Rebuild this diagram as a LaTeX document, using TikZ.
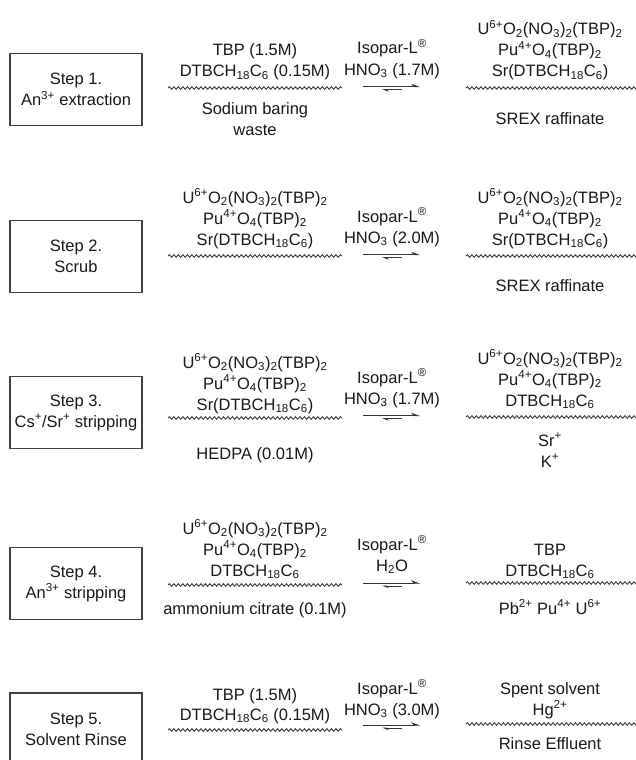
\documentclass[tikz,border=0pt]{standalone}
\usepackage{fontspec}
\setmainfont{Liberation Sans}
\usetikzlibrary{decorations.pathmorphing,arrows.meta}
\newcommand\supx[1]{\textsuperscript{#1}}
\newcommand\subx[1]{\textsubscript{#1}}
\newcommand\Uline{U\supx{6+}O\subx{2}(NO\subx{3})\subx{2}(TBP)\subx{2}}
\newcommand\Puline{Pu\supx{4+}O\subx{4}(TBP)\subx{2}}
\newcommand\Srline{Sr(DTBCH\subx{18}C\subx{6})}
\newcommand\Dline{DTBCH\subx{18}C\subx{6}}
\newcommand\Isop{Isopar-L\supx{®}}
\begin{document}
\begin{tikzpicture}[x=1pt,y=-1pt,
  every node/.style={font=\fontsize{16.5}{21}\selectfont, inner sep=0pt, text=black!90},
  txt/.style={anchor=base},
  stepbox/.style={draw=black!75, line width=1.1pt, minimum width=132pt, minimum height=72pt, align=center},
  wavy/.style={decorate, decoration={snake, segment length=4.5pt, amplitude=1.3pt}, line width=0.85pt, draw=black!80},
  fwd/.style={line width=1pt, draw=black!80, -{Stealth[harpoon, length=7.5pt, width=5.5pt]}},
  bwd/.style={line width=1pt, draw=black!80, -{Stealth[harpoon, length=5.5pt, width=4.5pt]}}]
\useasboundingbox (0,0) rectangle (636,760);
\fill[white] (0,0) rectangle (636,760);

% ---------- Step 1 ----------
\node[stepbox] (b1) at (76,89.5) {Step 1.\\An\supx{3+} extraction};
\node[txt] (l1a) at (255,56) {TBP (1.5M)};
\node[txt] (l1b) at (255,77) {\Dline{} (0.15M)};
\node[txt] (l1c) at (255,114) {Sodium baring};
\node[txt] (l1d) at (255,135) {waste};
\node[txt] (m1a) at (392,54) {\Isop};
\node[txt] (m1b) at (392,75) {HNO\subx{3} (1.7M)};
\node[txt] (r1a) at (550,35) {\Uline};
\node[txt] (r1b) at (550,56) {\Puline};
\node[txt] (r1c) at (550,77) {\Srline};
\node[txt] (r1d) at (550,124) {SREX raffinate};
\coordinate (wl1s) at (168,88); \coordinate (wl1e) at (342,88);
\coordinate (wr1s) at (466,88); \coordinate (wr1e) at (640,88);
\coordinate (af1s) at (363,86.5); \coordinate (af1e) at (420,86.5);
\coordinate (ab1s) at (402,89.5); \coordinate (ab1e) at (382,89.5);
\draw[wavy] (wl1s) -- (wl1e);
\draw[wavy] (wr1s) -- (wr1e);
\draw[fwd] (af1s) -- (af1e);
\draw[bwd] (ab1s) -- (ab1e);

% ---------- Step 2 ----------
\node[stepbox] (b2) at (76,256.5) {Step 2.\\Scrub};
\node[txt] (l2a) at (255,203) {\Uline};
\node[txt] (l2b) at (255,224) {\Puline};
\node[txt] (l2c) at (255,245) {\Srline};
\node[txt] (m2a) at (392,222) {\Isop};
\node[txt] (m2b) at (392,243) {HNO\subx{3} (2.0M)};
\node[txt] (r2a) at (550,203) {\Uline};
\node[txt] (r2b) at (550,224) {\Puline};
\node[txt] (r2c) at (550,245) {\Srline};
\node[txt] (r2d) at (550,291) {SREX raffinate};
\coordinate (wl2s) at (168,256); \coordinate (wl2e) at (342,256);
\coordinate (wr2s) at (466,256); \coordinate (wr2e) at (640,256);
\coordinate (af2s) at (363,254.5); \coordinate (af2e) at (420,254.5);
\coordinate (ab2s) at (402,257.5); \coordinate (ab2e) at (382,257.5);
\draw[wavy] (wl2s) -- (wl2e);
\draw[wavy] (wr2s) -- (wr2e);
\draw[fwd] (af2s) -- (af2e);
\draw[bwd] (ab2s) -- (ab2e);

% ---------- Step 3 ----------
\node[stepbox] (b3) at (76,412.5) {Step 3.\\Cs\supx{+}/Sr\supx{+} stripping};
\node[txt] (l3a) at (255,368) {\Uline};
\node[txt] (l3b) at (255,389) {\Puline};
\node[txt] (l3c) at (255,410) {\Srline};
\node[txt] (l3d) at (255,459) {HEDPA (0.01M)};
\node[txt] (m3a) at (392,383) {\Isop};
\node[txt] (m3b) at (392,404) {HNO\subx{3} (1.7M)};
\node[txt] (r3a) at (550,364) {\Uline};
\node[txt] (r3b) at (550,385) {\Puline};
\node[txt] (r3c) at (550,406) {\Dline};
\node[txt] (r3d) at (550,446) {Sr\supx{+}};
\node[txt] (r3e) at (550,467) {K\supx{+}};
\coordinate (wl3s) at (168,418); \coordinate (wl3e) at (342,418);
\coordinate (wr3s) at (466,417); \coordinate (wr3e) at (640,417);
\coordinate (af3s) at (363,415.5); \coordinate (af3e) at (420,415.5);
\coordinate (ab3s) at (402,418.5); \coordinate (ab3e) at (382,418.5);
\draw[wavy] (wl3s) -- (wl3e);
\draw[wavy] (wr3s) -- (wr3e);
\draw[fwd] (af3s) -- (af3e);
\draw[bwd] (ab3s) -- (ab3e);

% ---------- Step 4 ----------
\node[stepbox] (b4) at (76,583.5) {Step 4.\\An\supx{3+} stripping};
\node[txt] (l4a) at (255,534) {\Uline};
\node[txt] (l4b) at (255,555) {\Puline};
\node[txt] (l4c) at (255,576) {\Dline};
\node[txt] (l4d) at (255,614) {ammonium citrate (0.1M)};
\node[txt] (m4a) at (392,550) {\Isop};
\node[txt] (m4b) at (392,571) {H\subx{2}O};
\node[txt] (r4a) at (550,555) {TBP};
\node[txt] (r4b) at (550,576) {\Dline};
\node[txt] (r4c) at (550,614) {Pb\supx{2+} Pu\supx{4+} U\supx{6+}};
\coordinate (wl4s) at (168,585); \coordinate (wl4e) at (342,585);
\coordinate (wr4s) at (466,583); \coordinate (wr4e) at (640,583);
\coordinate (af4s) at (363,583); \coordinate (af4e) at (420,583);
\coordinate (ab4s) at (402,586); \coordinate (ab4e) at (382,586);
\draw[wavy] (wl4s) -- (wl4e);
\draw[wavy] (wr4s) -- (wr4e);
\draw[fwd] (af4s) -- (af4e);
\draw[bwd] (ab4s) -- (ab4e);

% ---------- Step 5 ----------
\node[stepbox] (b5) at (76,729) {Step 5.\\Solvent Rinse};
\node[txt] (l5a) at (255,700) {TBP (1.5M)};
\node[txt] (l5b) at (255,720) {\Dline{} (0.15M)};
\node[txt] (m5a) at (392,694) {\Isop};
\node[txt] (m5b) at (392,715) {HNO\subx{3} (3.0M)};
\node[txt] (r5a) at (550,694) {Spent solvent};
\node[txt] (r5b) at (550,715) {Hg\supx{2+}};
\node[txt] (r5c) at (550,749) {Rinse Effluent};
\coordinate (wl5s) at (168,730); \coordinate (wl5e) at (342,730);
\coordinate (wr5s) at (466,724); \coordinate (wr5e) at (640,724);
\coordinate (af5s) at (363,725); \coordinate (af5e) at (420,725);
\coordinate (ab5s) at (402,728); \coordinate (ab5e) at (382,728);
\draw[wavy] (wl5s) -- (wl5e);
\draw[wavy] (wr5s) -- (wr5e);
\draw[fwd] (af5s) -- (af5e);
\draw[bwd] (ab5s) -- (ab5e);
\end{tikzpicture}
\end{document}
